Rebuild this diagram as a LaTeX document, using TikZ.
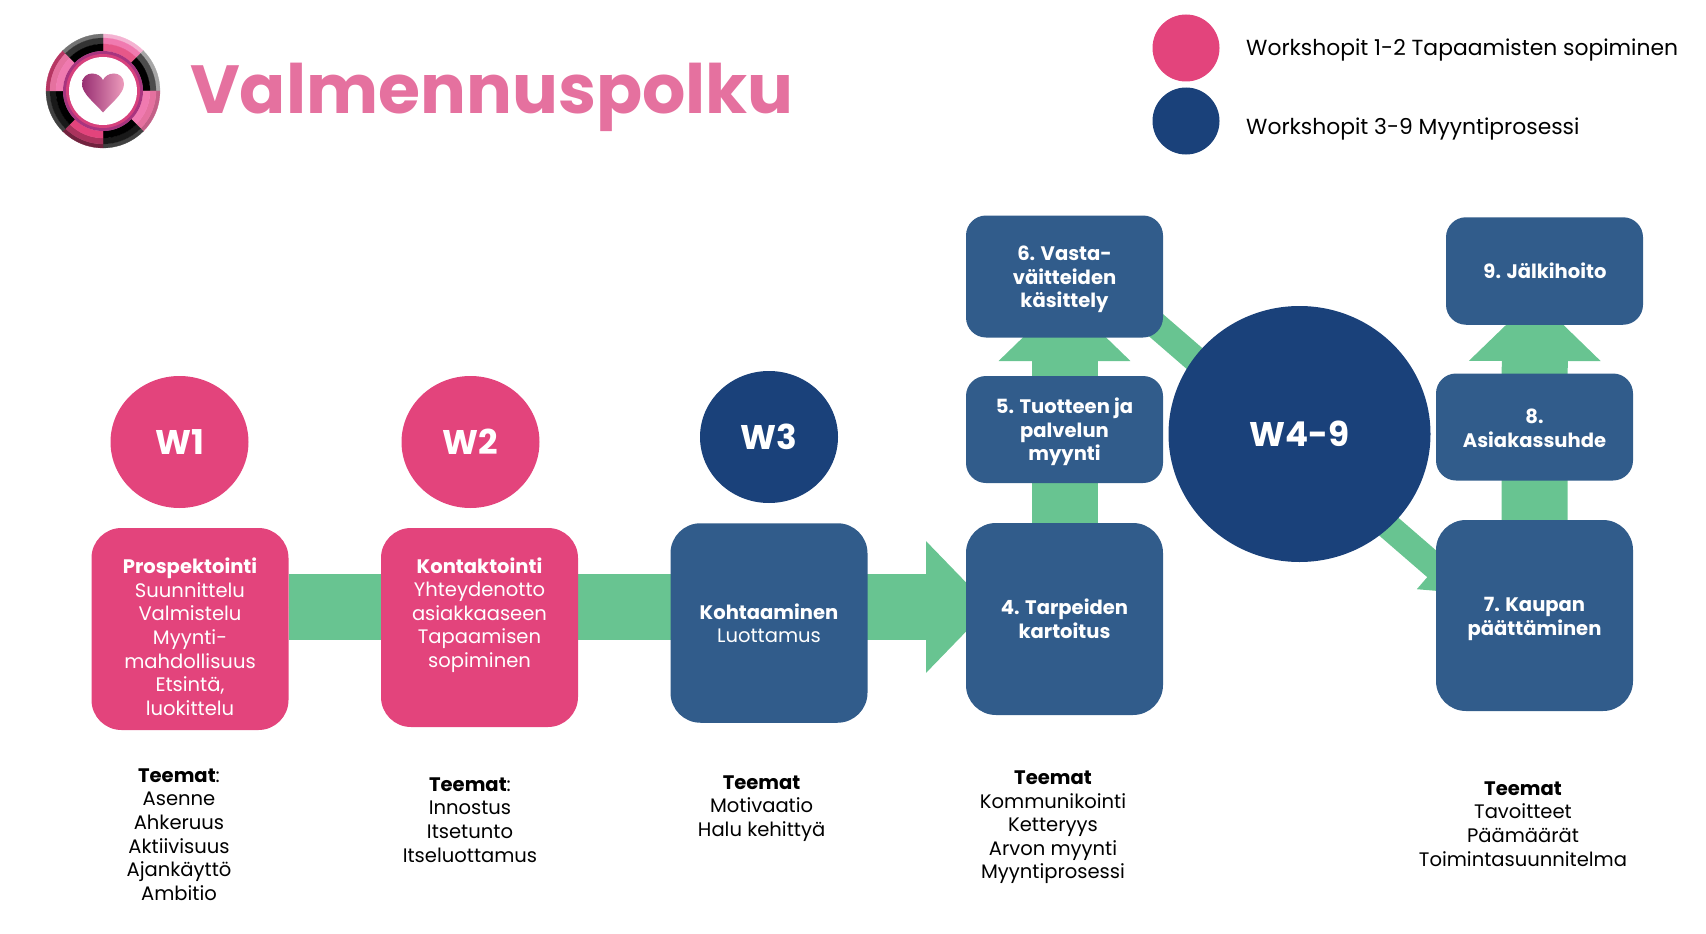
\documentclass[tikz,border=0pt]{standalone}
\usepackage{fontspec}
\setmainfont{Poppins}
\usetikzlibrary{arrows.meta,backgrounds,shapes.geometric}
\definecolor{wpink}{HTML}{E3447C}
\definecolor{wnavy}{HTML}{1A417A}
\definecolor{bblue}{HTML}{315C8B}
\definecolor{flowg}{HTML}{68C491}
\definecolor{titlep}{HTML}{E5719F}
\definecolor{lgtp}{HTML}{F4B3D2}
\definecolor{midp}{HTML}{F07AB0}
\definecolor{ringp}{HTML}{A8347F}
\newcommand{\lsector}[5]{% from angle, to angle, three band colours
  \fill[#3,draw=#3,line width=.3pt] (#1:57) arc[start angle=#1,end angle=#2,radius=57] -- (#2:53) arc[start angle=#2,end angle=#1,radius=53] -- cycle;
  \fill[#4,draw=#4,line width=.3pt] (#1:53) arc[start angle=#1,end angle=#2,radius=53] -- (#2:47) arc[start angle=#2,end angle=#1,radius=47] -- cycle;
  \fill[#5,draw=#5,line width=.3pt] (#1:47) arc[start angle=#1,end angle=#2,radius=47] -- (#2:40) arc[start angle=#2,end angle=#1,radius=40] -- cycle;
}
\tikzset{
  x=1pt,y=-1pt,
  bigbox/.style={rectangle,rounded corners=30pt,inner sep=0pt,minimum width=197pt},
  smallbox/.style={rectangle,rounded corners=20pt,inner sep=0pt,minimum width=197pt},
  pinkbox/.style={fill=wpink},
  bluebox/.style={fill=bblue},
  inbox/.style={inner sep=0pt,align=center,text=white,font=\fontsize{19.55}{23.6}\selectfont},
  theme/.style={inner sep=0pt,align=center,text=black,font=\fontsize{19.55}{23.6}\selectfont},
  wcircle/.style={ellipse,inner sep=0pt,text=white,font=\fontsize{34.2}{40}\selectfont\bfseries},
  legendtext/.style={inner sep=0pt,anchor=west,font=\fontsize{21.85}{26}\selectfont},
  flowbar/.style={draw=flowg,fill=flowg,line width=66pt,-{Triangle[width=128pt,length=64pt]}},
  diagbar/.style={draw=flowg,fill=flowg,line width=26pt,-{Triangle[width=55pt,length=40pt]}},
}
\begin{document}
\begin{tikzpicture}
\useasboundingbox (0,0) rectangle (1706,934);

% logo
\begin{scope}[shift={(103,91)},x=1pt,y=1pt]
  \lsector{45}{90}{lgtp}{midp}{wpink!90!white}
  \lsector{0}{45}{black!35}{black!70}{black}
  \lsector{-45}{0}{titlep!85!black}{titlep}{midp}
  \lsector{-90}{-45}{black!75}{black!90}{black}
  \lsector{-135}{-90}{wpink!50!black}{wpink!75!black}{wpink}
  \lsector{-180}{-135}{black!75}{black!90}{black}
  \lsector{135}{180}{wpink!80!black}{titlep}{midp}
  \lsector{90}{135}{black!55}{black!80}{black}
  \fill[ringp] (0,0) circle[radius=40];
  \fill[wpink!80!ringp] (0,0) circle[radius=37];
  \fill[white] (0,0) circle[radius=34];
  \shade[left color=ringp!90!black,right color=titlep!70!white]
    (0,-21.5) .. controls (-8,-12) and (-21,-3) .. (-21,7)
    .. controls (-21,14) and (-16,17.5) .. (-11,17.5)
    .. controls (-6,17.5) and (-2,15) .. (0,11)
    .. controls (2,15) and (6,17.5) .. (11,17.5)
    .. controls (16,17.5) and (21,14) .. (21,7)
    .. controls (21,-3) and (8,-12) .. (0,-21.5) -- cycle;
\end{scope}

\node[anchor=base west,inner sep=0pt,text=titlep,font=\fontsize{68.1}{70}\selectfont\bfseries] (title) at (190,113.5) {Valmennuspolku};

% legend
\node[ellipse,fill=wpink,minimum width=67pt,minimum height=67pt,inner sep=0pt] (leg1) at (1186,48) {};
\node[ellipse,fill=wnavy,minimum width=67pt,minimum height=67pt,inner sep=0pt] (leg2) at (1186,121) {};
\node[legendtext] (leg1t) at (1246,50.5) {Workshopit 1-2 Tapaamisten sopiminen};
\node[legendtext] (leg2t) at (1246,129.5) {Workshopit 3-9 Myyntiprosessi};

% boxes
\node[bigbox,pinkbox,minimum height=202pt] (b1) at (190,629) {};
\node[bigbox,pinkbox,minimum height=199pt] (b2) at (479.5,627.5) {};
\node[bigbox,bluebox,minimum height=199.5pt] (b3) at (769,623) {};
\node[bigbox,bluebox,minimum height=192pt] (b4) at (1064.5,619) {};
\node[smallbox,bluebox,minimum height=107pt] (b5) at (1064.5,429.5) {};
\node[smallbox,bluebox,minimum height=122pt] (b6) at (1064.5,276.5) {};
\node[bigbox,bluebox,minimum height=191pt] (b7) at (1534.5,615.5) {};
\node[smallbox,bluebox,minimum height=107pt] (b8) at (1534.5,427) {};
\node[smallbox,bluebox,minimum height=107.5pt] (b9) at (1544.5,271) {};

\node[inbox] (b1t) at (190,636.8) {\textbf{Prospektointi}\\Suunnittelu\\Valmistelu\\Myynti-\\mahdollisuus\\Etsintä,\\luokittelu};
\node[inbox] (b2t) at (479.5,615) {\textbf{Kontaktointi}\\Yhteydenotto\\asiakkaaseen\\Tapaamisen\\sopiminen};
\node[inbox] (b3t) at (769,623.4) {\textbf{Kohtaaminen}\\Luottamus};
\node[inbox] (b4t) at (1064.5,619) {\textbf{4. Tarpeiden}\\\textbf{kartoitus}};
\node[inbox] (b5t) at (1064.5,432) {\textbf{5. Tuotteen ja}\\\textbf{palvelun}\\\textbf{myynti}};
\node[inbox] (b6t) at (1064.5,279.7) {\textbf{6. Vasta-}\\\textbf{väitteiden}\\\textbf{käsittely}};
\node[inbox] (b7t) at (1534.5,618.8) {\textbf{7. Kaupan}\\\textbf{päättäminen}};
\node[inbox] (b8t) at (1534.5,428) {\textbf{8.}\\\textbf{Asiakassuhde}};
\node[inbox] (b9t) at (1545,271) {\textbf{9. Jälkihoito}};

% circles
\node[wcircle,fill=wpink,minimum width=138pt,minimum height=132pt] (w1) at (179.5,442) {W1};
\node[wcircle,fill=wpink,minimum width=138pt,minimum height=132pt] (w2) at (470.5,442) {W2};
\node[wcircle,fill=wnavy,minimum width=138pt,minimum height=132pt] (w3) at (769,437) {W3};
\node[wcircle,fill=wnavy,minimum width=262pt,minimum height=256pt] (w49) at (1299.5,434) {W4-9};

% themes
\node[theme] (t1) at (179,834.5) {\textbf{Teemat}:\\Asenne\\Ahkeruus\\Aktiivisuus\\Ajankäyttö\\Ambitio};
\node[theme] (t2) at (470,820) {\textbf{Teemat}:\\Innostus\\Itsetunto\\Itseluottamus};
\node[theme] (t3) at (761.6,808.3) {\textbf{Teemat}\\Motivaatio\\Halu kehittyä};
\node[theme] (t4) at (1053,827.4) {\textbf{Teemat}\\Kommunikointi\\Ketteryys\\Arvon myynti\\Myyntiprosessi};
\node[theme] (t5) at (1523,824) {\textbf{Teemat}\\Tavoitteet\\Päämäärät\\Toimintasuunnitelma};

% flow arrows, behind everything
\coordinate (tip4) at (990,607);
\coordinate (tip6) at (1064.5,297);
\coordinate (tip9) at (1534.8,297);
\coordinate (from6) at (1130,302.7);
\coordinate (tip7) at (1466,593.5);
\begin{pgfonlayer}{background}
  \draw[flowbar] (b1.east |- tip4) -- (tip4);
  \draw[flowbar] (b4.center) -- (tip6);
  \draw[flowbar] (b7.center) -- (tip9);
  \draw[diagbar] (from6) -- (tip7);
\end{pgfonlayer}
\end{tikzpicture}
\end{document}
